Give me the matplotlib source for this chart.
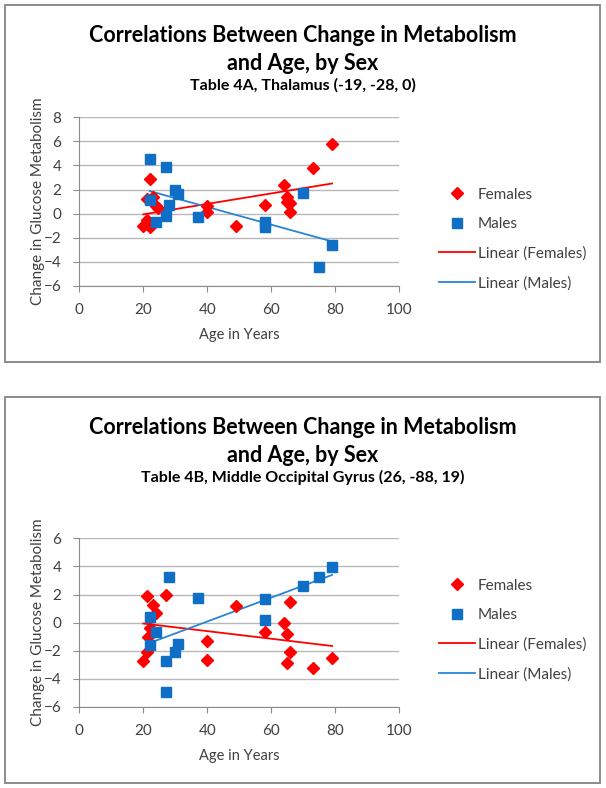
import numpy as np
import matplotlib.pyplot as plt
from matplotlib.patches import Rectangle
from matplotlib.lines import Line2D

plt.rcParams.update({'font.family': ['Lato', 'DejaVu Sans'], 'font.size': 10})

RED = '#FF0000'
BLUE = '#0F6FC6'
BLUE_LINE = '#2A85D5'
GRID = '#B8B8B8'
TEXT = '#404040'

# Table 4A, Thalamus
fem_age_a = [20, 21, 21, 21, 22, 22, 23, 24, 24.5, 40, 40, 49, 58, 64, 65, 65, 66, 66, 73, 79]
fem_chg_a = [-1.0, 1.2, -0.5, -0.8, 2.9, -1.1, 1.4, 0.6, 0.5, 0.6, 0.15, -1.0, 0.7, 2.4, 1.4, 1.0, 0.85, 0.15, 3.8, 5.8]
male_age_a = [22, 22, 24, 27, 27, 28, 30, 31, 37, 58, 58, 70, 75, 79]
male_chg_a = [4.5, 1.1, -0.7, 3.9, -0.15, 0.7, 2.0, 1.65, -0.25, -0.65, -1.1, 1.75, -4.4, -2.6]

# Table 4B, Middle Occipital Gyrus
fem_age_b = [20, 21, 21, 21.5, 22, 23, 24, 27, 40, 40, 49, 58, 64, 65, 65, 66, 66, 73, 79]
fem_chg_b = [-2.75, 1.9, -2.1, -1.0, -0.35, 1.25, 0.7, 2.0, -1.3, -2.65, 1.2, -0.7, 0.0, -0.8, -2.85, 1.5, -2.1, -3.2, -2.5]
male_age_b = [22, 22, 24, 27, 27, 28, 30, 31, 37, 58, 58, 70, 75, 79]
male_chg_b = [0.4, -1.6, -0.65, -2.75, -4.9, 3.25, -2.1, -1.5, 1.75, 1.65, 0.2, 2.6, 3.25, 3.95]

subtitles = ['Table 4A, Thalamus (-19, -28, 0)', 'Table 4B, Middle Occipital Gyrus (26, -88, 19)']
y_ranges = [(-6, 8), (-6, 6)]
x_ticks = [0, 20, 40, 60, 80, 100]

W, H = 606, 788


def fx(px):
	return px / W


def fy(py):
	return 1 - py / H


def trend(ax, x, y, color):
	x = np.asarray(x, float)
	m, b = np.polyfit(x, np.asarray(y, float), 1)
	xs = np.array([x.min(), x.max()])
	ax.plot(xs, m * xs + b, color=color, lw=1.3, zorder=3)


def draw_panel(fig, box, ax_top, leg_y, fa, fc, ma, mc, subtitle, yr):
	top, bottom = box
	# chart border
	fig.patches.append(Rectangle((fx(5), fy(bottom)), fx(595), (bottom - top) / H,
		transform=fig.transFigure, fill=False, ec='#8C8C8C', lw=1.4))
	ax = fig.add_axes([fx(79.3), fy(ax_top + 168.7), fx(320), 168.7 / H])
	ax.plot(fa, fc, ls='none', marker='D', ms=6.5, color=RED, mec=RED, zorder=4)
	ax.plot(ma, mc, ls='none', marker='s', ms=7.5, color=BLUE, mec=BLUE, zorder=4)
	trend(ax, fa, fc, RED)
	trend(ax, ma, mc, BLUE_LINE)
	ax.set_xlim(0, 100)
	ax.set_ylim(*yr)
	ax.set_xticks(x_ticks)
	ax.set_yticks(np.arange(yr[0], yr[1] + 1, 2))
	ax.yaxis.grid(True, color=GRID, lw=1)
	ax.set_axisbelow(True)
	for s in ['top', 'right']:
		ax.spines[s].set_visible(False)
	for s in ['left', 'bottom']:
		ax.spines[s].set_color('#8C8C8C')
	ax.tick_params(colors='#8C8C8C', labelcolor=TEXT, length=4, labelsize=11)
	ax.tick_params(axis='x', pad=8)
	ax.tick_params(axis='y', pad=9)
	ax.set_xlabel('Age in Years', color=TEXT, fontsize=10.5, labelpad=8)
	ax.set_ylabel('Change in Glucose Metabolism', color=TEXT, fontsize=11, labelpad=-1)

	fig.text(0.5, fy(top + 30), 'Correlations Between Change in Metabolism',
		ha='center', va='center', fontsize=15.5, fontweight='bold', color='black')
	fig.text(0.5, fy(top + 58), 'and Age, by Sex',
		ha='center', va='center', fontsize=15.5, fontweight='bold', color='black')
	fig.text(0.5, fy(top + 80), subtitle,
		ha='center', va='center', fontsize=11.5, fontweight='bold', color='black')

	handles = [
		Line2D([], [], ls='none', marker='D', ms=6, color=RED),
		Line2D([], [], ls='none', marker='s', ms=6.5, color=BLUE),
		Line2D([], [], color=RED, lw=1.3),
		Line2D([], [], color=BLUE_LINE, lw=1.3),
	]
	labels = ['Females', 'Males', 'Linear (Females)', 'Linear (Males)']
	ax.legend(handles, labels, loc='center left', bbox_to_anchor=(fx(425), fy(leg_y)),
		bbox_transform=fig.transFigure, frameon=False, fontsize=11, handlelength=2.4,
		handletextpad=0.15, labelspacing=1.0, labelcolor=TEXT)
	return ax


fig = plt.figure(figsize=(6.06, 7.88), dpi=100)
draw_panel(fig, (5, 362), 117.3, 239, fem_age_a, fem_chg_a, male_age_a, male_chg_a, subtitles[0], y_ranges[0])
draw_panel(fig, (397, 783), 538.3, 630, fem_age_b, fem_chg_b, male_age_b, male_chg_b, subtitles[1], y_ranges[1])
fig.savefig('out.png', dpi=100)
